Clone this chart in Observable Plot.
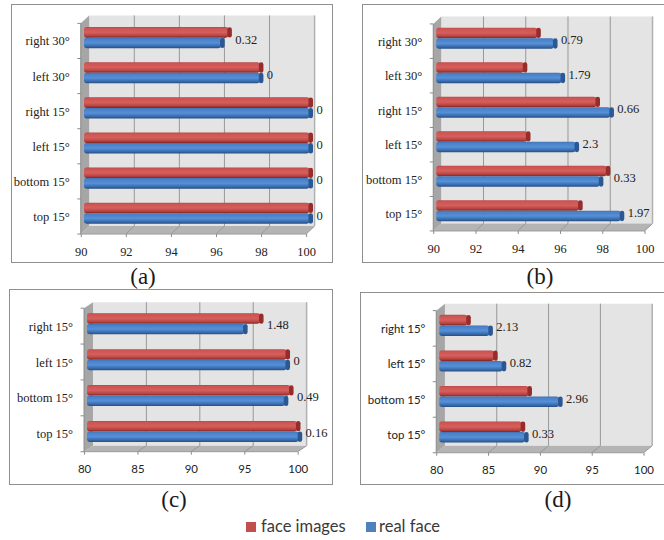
<!DOCTYPE html>
<html><head><meta charset="utf-8">
<script src="https://cdn.jsdelivr.net/npm/d3@7"></script>
<script src="https://cdn.jsdelivr.net/npm/@observablehq/plot@0.6"></script>
<style>
html,body{margin:0;background:#fff}
#stage{position:relative;width:664px;height:540px;overflow:hidden;background:#fff}
.panel{position:absolute;box-sizing:border-box;border:1.5px solid #8f8f8f}
.panel svg{display:block;overflow:visible;background:transparent;position:absolute;left:-1.5px;top:-1.5px}
.cap{position:absolute;font-family:"Liberation Serif","Times New Roman","DejaVu Serif",serif;font-size:23px;color:#1a1a1a;transform:translateX(-50%);line-height:26px}
.legend{position:absolute;font-family:Lato,sans-serif;font-size:16.5px;color:#3a3a3a;line-height:20px}
.sw{position:absolute;width:10px;height:10px}
</style></head><body><div id="stage"></div>
<script>
const cats6 = ["right 30°","left 30°","right 15°","left 15°","bottom 15°","top 15°"];
const cats4 = ["right 15°","left 15°","bottom 15°","top 15°"];
const seriesNames = ["face images","real face"];
const seriesColors = ["#c0504d","#4f81bd"];

const faceA = [96.4,97.8,100,100,100,100];
const realA = [96.08,97.8,100,100,100,100];
const labelsA = ["0.32","0","0","0","0","0"];
const faceB = [94.78,94.14,97.58,94.29,98.07,96.76];
const realB = [95.57,95.93,98.24,96.59,97.74,98.73];
const labelsB = ["0.79","1.79","0.66","2.3","0.33","1.97"];
const faceC = [96.19,98.67,99.0,99.65];
const realC = [94.7,98.67,98.51,99.81];
const labelsC = ["1.48","0","0.49","0.16"];
const faceD = [82.7,85.29,88.6,87.95];
const realD = [84.83,86.12,91.56,88.28];
const labelsD = ["2.13","0.82","2.96","0.33"];

const ticksAB = [90,92,94,96,98,100];
const ticksCD = [80,85,90,95,100];

const serif = "Liberation Serif, Times New Roman, DejaVu Serif, serif", sans = "Lato, sans-serif";
const panels = [
 {cats:cats6,face:faceA,real:realA,labels:labelsA,ticks:ticksAB,box:[10.5,3.5,333,262.5],x0:81.7,x1:308.5,top:24,bot:236,depth:[8.5,-8],shift:[3.3,-3.3],yFont:[serif,12.6],xFont:[serif,12.5],open:false},
 {cats:cats6,face:faceB,real:realB,labels:labelsB,ticks:ticksAB,box:[361.5,4,664,262.5],x0:434,x1:646,top:24,bot:231.7,depth:[8,-7.5],shift:[3,-3],yFont:[serif,12.6],xFont:[serif,12.5],open:true},
 {cats:cats4,face:faceC,real:realC,labels:labelsC,ticks:ticksCD,box:[8.5,289,333,484.5],x0:85,x1:300,top:308.3,bot:452.7,depth:[9,-6],shift:[3,-2.3],yFont:[serif,12.6],xFont:[sans,11.5],open:false},
 {cats:cats4,face:faceD,real:realD,labels:labelsD,ticks:ticksCD,box:[359.5,292,664,484.5],x0:437,x1:645,top:310.7,bot:453.3,depth:[8.7,-7],shift:[3,-3],yFont:[sans,11.5],xFont:[sans,11.5],open:true}
];

const captions = [["(a)",143,264],["(b)",540,264],["(c)",174,487],["(d)",558,487]];

function gradientDefs(){
  const defs = d3.create("svg:defs");
  const stops = {
    gradRed:[[0,"#b84644"],[.12,"#cc5553"],[.5,"#d65f5c"],[.8,"#b84543"],[1,"#7d2523"]],
    gradBlue:[[0,"#3e70b2"],[.12,"#4a80c6"],[.5,"#5590d8"],[.8,"#3a6cae"],[1,"#254e82"]]
  };
  for (const id in stops){
    const g = defs.append("linearGradient").attr("id",id).attr("x1",0).attr("x2",0).attr("y1",0).attr("y2",1);
    for (const [o,c] of stops[id]) g.append("stop").attr("offset",o).attr("stop-color",c);
  }
  return defs.node();
}

function walls(p){
  return (index, scales, values, dims) => {
    const [ox,oy] = p.depth;
    const x = scales.x;
    const xa = x(p.ticks[0]), xb = x(p.ticks[p.ticks.length-1]);
    const yb = dims.height - dims.marginBottom, yt = dims.marginTop;
    const g = d3.create("svg:g");
    const poly = (pts,fill) => g.append("polygon").attr("points",pts.map(d=>d.join(",")).join(" ")).attr("fill",fill);
    poly([[xa+ox,yt+oy],[xb+ox,yt+oy],[xb+ox,yb+oy],[xa+ox,yb+oy]],"#e4e4e4");
    poly([[xa,yb],[xa+ox,yb+oy],[xb+ox,yb+oy],[xb,yb]],"#b4b4b4");
    poly([[xa,yt],[xa+ox,yt+oy],[xa+ox,yb+oy],[xa,yb]],"#a6a6a6");
    const line = (x1,y1,x2,y2,c,w) => g.append("line").attr("x1",x1).attr("y1",y1).attr("x2",x2).attr("y2",y2).attr("stroke",c).attr("stroke-width",w||1);
    p.ticks.slice(1).forEach((t,i)=>{
      const tx = x(t);
      if (i < p.ticks.length-2) line(tx+ox,yt+oy,tx+ox,yb+oy,"#989898");
      line(tx,yb,tx+ox,yb+oy,"#989898");
    });
    line(xb+ox,yt+oy,xb+ox,yb+oy,"#b0b0b0",1.5);
    line(xa,yb,xb,yb,"#9a9a9a");
    line(xa,yt,xa,yb,"#8a8a8a");
    const band = (yb-yt)/p.cats.length;
    d3.range(p.cats.length+1).forEach(i=>line(xa-3.5,yt+i*band,xa,yt+i*band,"#8a8a8a"));
    return g.node();
  };
}

function drawPanel(p){
  const [l,t,r,b] = p.box;
  const W = r-l, H = b-t;
  const mT = p.top-t, mB = b-p.bot, mL = p.x0-l, mR = r-p.x1;
  const band = (p.bot-p.top)/p.cats.length;
  const barH = 10.6;
  const [sx,sy] = p.shift;
  const rows = p.cats.map((c,i)=>({cat:c,face:p.face[i],real:p.real[i],label:p.labels[i],max:Math.max(p.face[i],p.real[i])}));
  const floor = p.ticks[0];
  const redIn = {insetTop:band/2-barH, insetBottom:band/2};
  const bluIn = {insetTop:band/2, insetBottom:band/2-barH};
  const series = (key,fill,cap,inset)=>[
    Plot.barX(rows,{x1:()=>floor,x2:key,y:"cat",fill,dx:sx,dy:sy,rx:2.5,...inset}),
    Plot.tickX(rows,{x:key,y:"cat",stroke:cap,strokeWidth:4.6,strokeLinecap:"round",dx:sx+0.8,dy:sy,
      insetTop:inset.insetTop+2.4,insetBottom:inset.insetBottom+2.4})
  ];
  const svg = Plot.plot({
    width:W,height:H,marginLeft:mL,marginRight:mR,marginTop:mT,marginBottom:mB,
    style:{background:"transparent",overflow:"visible"},
    x:{domain:[p.ticks[0],p.ticks[p.ticks.length-1]],axis:null},
    y:{domain:p.cats,padding:0,round:false,axis:null,align:0.5},
    marks:[
      ()=>gradientDefs(),
      walls(p),
      Plot.axisX({ticks:p.ticks,tickSize:3,tickPadding:10,label:null,stroke:"#8a8a8a",fill:"#222",
        fontFamily:p.xFont[0],fontSize:p.xFont[1]}),
      Plot.axisY({tickSize:0,tickPadding:11.5,label:null,fill:"#222",
        fontFamily:p.yFont[0],fontSize:p.yFont[1]}),
      ...series("face","url(#gradRed)","#962d2b",redIn),
      ...series("real","url(#gradBlue)","#2b5793",bluIn),
      Plot.text(rows,{x:"max",y:"cat",text:"label",textAnchor:"start",dx:sx+6.5,dy:-1.5,
        fontFamily:serif,fontSize:12.6,fill:"#222"})
    ]
  });
  svg.querySelectorAll("[font-family]").forEach(n=>{n.style.fontFamily=n.getAttribute("font-family")});
  const div = document.createElement("div");
  div.className = "panel";
  div.style.cssText = `left:${l}px;top:${t}px;width:${W}px;height:${H}px;`+(p.open?"border-right:none;":"");
  div.appendChild(svg);
  return div;
}

const stage = document.getElementById("stage");
panels.forEach(p=>stage.appendChild(drawPanel(p)));
captions.forEach(([s,x,y])=>{
  const d=document.createElement("div");d.className="cap";d.textContent=s;d.style.left=x+"px";d.style.top=y+"px";stage.appendChild(d);
});
const legendPos = [[246,261],[366,379]];
seriesNames.forEach((n,i)=>{
  const s=document.createElement("div");s.className="sw";s.style.cssText=`left:${legendPos[i][0]}px;top:522px;background:${seriesColors[i]}`;stage.appendChild(s);
  const d=document.createElement("div");d.className="legend";d.textContent=n;d.style.cssText=`left:${legendPos[i][1]}px;top:516px`;stage.appendChild(d);
});
</script></body></html>
